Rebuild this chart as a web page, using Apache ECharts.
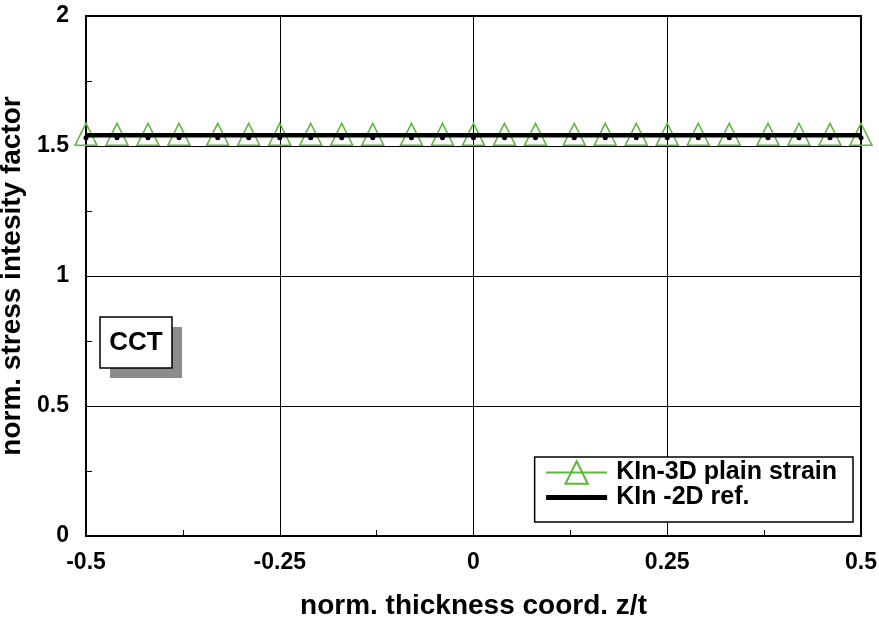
<!DOCTYPE html>
<html>
<head>
<meta charset="UTF-8">
<title>CCT</title>
<script src="https://cdn.jsdelivr.net/npm/echarts@6/dist/echarts.min.js"></script>
</head>
<body style="margin:0">
<div id="main" style="width:879px; height:621px;"></div>
<script type="text/javascript">
    // data
    var zPos = [-0.5, -0.46, -0.42, -0.38, -0.33, -0.29, -0.25, -0.21, -0.17, -0.13, -0.08, -0.04, 0,
                0.04, 0.08, 0.13, 0.17, 0.21, 0.25, 0.29, 0.33, 0.38, 0.42, 0.46, 0.5];
    var k3d = [1.545, 1.545, 1.545, 1.545, 1.545, 1.545, 1.545, 1.545, 1.545, 1.545, 1.545, 1.545, 1.545,
               1.545, 1.545, 1.545, 1.545, 1.545, 1.545, 1.545, 1.545, 1.545, 1.545, 1.545, 1.545];
    var k3dDots = [1.532, 1.532, 1.532, 1.532, 1.532, 1.532, 1.532, 1.532, 1.532, 1.532, 1.532, 1.532, 1.532,
                   1.532, 1.532, 1.532, 1.532, 1.532, 1.532, 1.532, 1.532, 1.532, 1.532, 1.532, 1.532];
    var refZ = [-0.5, 0.5];
    var ref2d = [1.541, 1.541];
    var xTicks = ['-0.5', '-0.25', '0', '0.25', '0.5'];
    var yTicks = ['0', '0.5', '1', '1.5', '2'];

    function pairs(xs, ys) {
        return xs.map(function (x, i) { return [x, ys[i]]; });
    }

    var green = '#5cb83a';
    var font = 'Liberation Sans, Arial, sans-serif';

    var chart = echarts.init(document.getElementById('main'));
    var option = {
        animation: false,
        backgroundColor: '#fff',
        grid: {
            left: 86, right: 18, top: 16, bottom: 85,
            containLabel: false, outerBoundsMode: 'none',
            show: true, borderColor: '#000', borderWidth: 2
        },
        xAxis: {
            type: 'value', min: -0.5, max: 0.5, interval: 0.25,
            name: 'norm. thickness coord. z/t',
            nameLocation: 'middle', nameGap: 56,
            nameTextStyle: {fontFamily: font, fontWeight: 'bold', fontSize: 28, color: '#000'},
            axisLine: {show: true, onZero: false, lineStyle: {color: '#000', width: 2}},
            axisTick: {show: false},
            minorTick: {show: true, splitNumber: 2, length: -6, lineStyle: {color: '#000', width: 1}},
            splitLine: {show: true, lineStyle: {color: '#000', width: 1}},
            axisLabel: {
                fontFamily: font, fontWeight: 'bold', fontSize: 23, color: '#000', margin: 15,
                formatter: function (v) {
                    return xTicks[Math.round((v + 0.5) / 0.25)];
                }
            }
        },
        yAxis: {
            type: 'value', min: 0, max: 2, interval: 0.5,
            name: 'norm. stress intesity factor',
            nameLocation: 'middle', nameGap: 46,
            nameTextStyle: {fontFamily: font, fontWeight: 'bold', fontSize: 28, color: '#000'},
            axisLine: {show: true, onZero: false, lineStyle: {color: '#000', width: 2}},
            axisTick: {show: false},
            minorTick: {show: true, splitNumber: 2, length: -6, lineStyle: {color: '#000', width: 1}},
            splitLine: {show: true, lineStyle: {color: '#000', width: 1}},
            axisLabel: {
                fontFamily: font, fontWeight: 'bold', fontSize: 23, color: '#000', margin: 17,
                formatter: function (v) {
                    return yTicks[Math.round(v / 0.5)];
                }
            }
        },
        legend: {
            right: 26, bottom: 99,
            orient: 'vertical',
            data: [
                {name: 'KIn-3D plain strain'},
                {name: 'KIn -2D ref.', itemStyle: {opacity: 0}, lineStyle: {width: 5}}
            ],
            backgroundColor: '#fff',
            borderColor: '#000', borderWidth: 1.5, borderRadius: 0,
            padding: [3, 16, 12, 9],
            itemWidth: 61, itemHeight: 28, itemGap: 0,
            textStyle: {fontFamily: font, fontWeight: 'bold', fontSize: 25, color: '#000', padding: [0, 0, 0, 4]}
        },
        graphic: [
            {type: 'rect', shape: {x: 110, y: 327, width: 72, height: 51}, style: {fill: '#8c8c8c'}},
            {type: 'rect', shape: {x: 100, y: 317, width: 72, height: 51},
             style: {fill: '#fff', stroke: '#000', lineWidth: 1.5}},
            {type: 'text', x: 136, y: 343,
             style: {text: 'CCT', font: 'bold 26px ' + font, fill: '#000', textAlign: 'center', textVerticalAlign: 'middle'}}
        ],
        series: [
            {
                name: 'KIn-3D plain strain',
                type: 'line',
                data: pairs(zPos, k3d),
                symbol: 'triangle',
                symbolSize: [22, 22],
                lineStyle: {color: green, width: 1.5},
                itemStyle: {color: 'rgba(255,255,255,0)', borderColor: green, borderWidth: 1.5},
                z: 2
            },
            {
                name: 'KIn -2D ref.',
                type: 'line',
                data: pairs(refZ, ref2d),
                symbol: 'none',
                lineStyle: {color: '#000', width: 4.5},
                itemStyle: {color: '#000'},
                z: 3
            },
            {
                name: 'dots',
                type: 'line',
                data: pairs(zPos, k3dDots),
                symbol: 'circle',
                symbolSize: 5,
                lineStyle: {width: 0, opacity: 0},
                itemStyle: {color: '#000'},
                z: 4
            }
        ]
    };
    chart.setOption(option);
</script>
</body>
</html>
